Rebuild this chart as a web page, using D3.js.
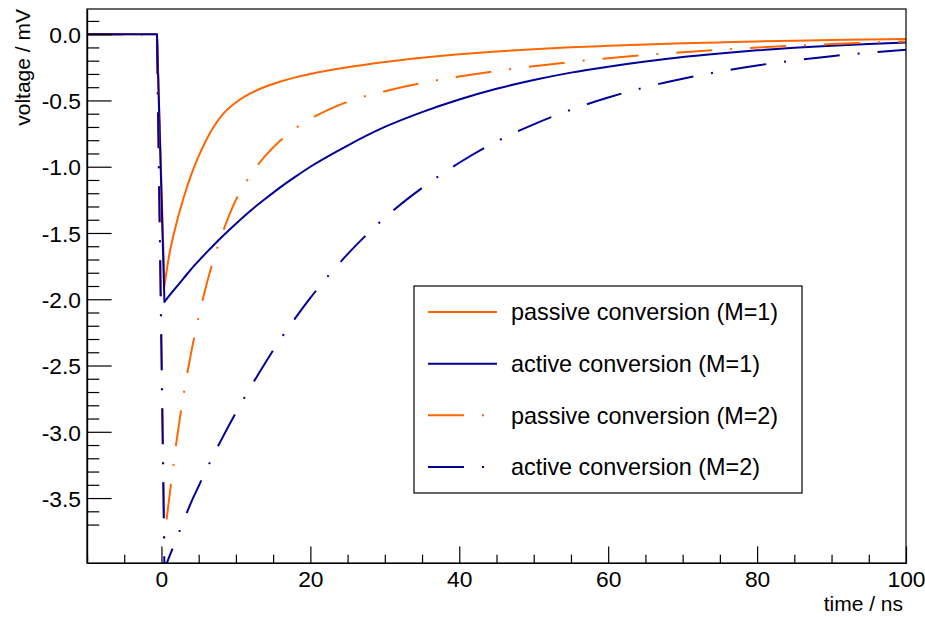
<!DOCTYPE html>
<html>
<head>
<meta charset="utf-8">
<script src="https://cdn.jsdelivr.net/npm/d3@7/dist/d3.min.js"></script>
<style>
  html, body { margin: 0; padding: 0; background: #fff; }
  svg { display: block; }
  text { font-family: "Liberation Sans", Arial, Helvetica, sans-serif; fill: #000; }
</style>
</head>
<body>
<svg id="chart" width="925" height="617"></svg>
<script>
// ---- data ----
const times = [-10, -0.6, 0.4, 1, 2, 3, 4, 5, 6, 7, 8, 10, 12, 14, 16, 18, 20, 25, 30, 35, 40, 45, 50, 55, 60, 65, 70, 75, 80, 85, 90, 95, 100];

const passiveM1 = [0, 0, -1.90, -1.68, -1.43, -1.23, -1.06, -0.92, -0.80, -0.70, -0.62, -0.515, -0.445, -0.395, -0.357, -0.326, -0.300, -0.250, -0.210, -0.178, -0.152, -0.131, -0.114, -0.099, -0.088, -0.078, -0.069, -0.062, -0.055, -0.049, -0.044, -0.040, -0.036];

const activeM1 = [0, 0, -2.02, -1.977, -1.908, -1.84, -1.772, -1.71, -1.65, -1.592, -1.536, -1.43, -1.33, -1.24, -1.154, -1.075, -1.00, -0.84, -0.70, -0.588, -0.493, -0.412, -0.346, -0.29, -0.245, -0.206, -0.172, -0.145, -0.122, -0.103, -0.087, -0.074, -0.062];

const passiveM2 = [0, 0, -3.80, -3.52, -3.08, -2.71, -2.40, -2.13, -1.90, -1.70, -1.53, -1.25, -1.06, -0.915, -0.80, -0.71, -0.64, -0.51, -0.43, -0.368, -0.32, -0.278, -0.242, -0.21, -0.182, -0.157, -0.136, -0.117, -0.101, -0.087, -0.075, -0.064, -0.055];

const activeM2 = [0, 0, -4.04, -3.95, -3.81, -3.67, -3.53, -3.41, -3.29, -3.175, -3.065, -2.855, -2.66, -2.475, -2.30, -2.14, -1.99, -1.66, -1.385, -1.16, -0.97, -0.81, -0.68, -0.57, -0.478, -0.40, -0.336, -0.282, -0.236, -0.198, -0.166, -0.14, -0.118];

const seriesNames = ["passive conversion (M=1)", "active conversion (M=1)", "passive conversion (M=2)", "active conversion (M=2)"];

const xMajorTicks = [0, 20, 40, 60, 80, 100];
const yMajorTicks = [0, -0.5, -1.0, -1.5, -2.0, -2.5, -3.0, -3.5];

const xTitle = "time / ns";
const yTitle = "voltage / mV";

// ---- styles ----
const ORANGE = "#ff6600";
const BLUE = "#000099";
const DASHDOT = "36,18,2,18";
const styles = [
  { color: ORANGE, dash: null },
  { color: BLUE, dash: null },
  { color: ORANGE, dash: DASHDOT },
  { color: BLUE, dash: DASHDOT }
];
const seriesValues = [passiveM1, activeM1, passiveM2, activeM2];

const LABEL_SIZE = "22.8px";
const TITLE_SIZE = "21px";
const LEGEND_SIZE = "23.4px";

// ---- layout ----
const svg = d3.select("#chart");
const L = 87, R = 906, T = 9, B = 563;

const x = d3.scaleLinear().domain([-10, 100]).range([L, R]);
const y = d3.scaleLinear().domain([-3.99, 0.19]).range([B, T]);

svg.append("rect").attr("width", 925).attr("height", 617).attr("fill", "#fff");

svg.append("defs").append("clipPath").attr("id", "clip")
  .append("rect").attr("x", L).attr("y", T).attr("width", R - L).attr("height", B - T);

// curves
function pathFor(vals) {
  const pts = times.map((t, i) => [x(t), y(vals[i])]);
  const lin = d3.line()(pts.slice(0, 3));
  const smooth = d3.line().curve(d3.curveMonotoneX)(pts.slice(2));
  return lin + smooth.replace(/^M[^A-Za-z]*/, "");
}

const g = svg.append("g").attr("clip-path", "url(#clip)");
seriesValues.forEach((vals, i) => {
  g.append("path")
    .attr("d", pathFor(vals))
    .attr("fill", "none")
    .attr("stroke", styles[i].color)
    .attr("stroke-width", 2)
    .attr("stroke-linejoin", "round")
    .attr("stroke-dasharray", styles[i].dash);
});

// frame
svg.append("rect")
  .attr("x", L).attr("y", T).attr("width", R - L).attr("height", B - T)
  .attr("fill", "none").attr("stroke", "#000").attr("stroke-width", 1.2);

// x axis
const xMajLen = 16.6, xMinLen = 8.3;
const xAxisMaj = d3.axisBottom(x).tickValues(xMajorTicks).tickSizeInner(-xMajLen).tickSizeOuter(0).tickPadding(0).tickFormat(d3.format("d"));
const xMinorVals = d3.range(-10, 100.01, 5).filter(v => !xMajorTicks.includes(v));
const xAxisMin = d3.axisBottom(x).tickValues(xMinorVals).tickSizeInner(-xMinLen).tickSizeOuter(0).tickFormat("");

const gxMin = svg.append("g").attr("transform", `translate(0,${B})`).call(xAxisMin);
const gx = svg.append("g").attr("transform", `translate(0,${B})`).call(xAxisMaj);
[gx, gxMin].forEach(a => {
  a.select(".domain").attr("stroke", "#000").attr("stroke-width", 1.2);
  a.selectAll(".tick line").attr("stroke", "#000").attr("stroke-width", 1.2);
});
gx.selectAll(".tick text")
  .attr("y", 24).attr("dy", 0)
  .style("font-size", LABEL_SIZE).style("font-family", "'Liberation Sans', Arial, sans-serif")
  .attr("fill", "#000");

// y axis
const yMajLen = 24.6, yMinLen = 12.3;
const yAxisMaj = d3.axisLeft(y).tickValues(yMajorTicks).tickSizeInner(-yMajLen).tickSizeOuter(0).tickPadding(0).tickFormat(d3.format(".1f"));
const yMinorVals = d3.range(1, 40).map(k => +(0.2 - k * 0.1).toFixed(1)).filter(v => v <= 0.19 && v >= -3.99 && !yMajorTicks.some(m => Math.abs(m - v) < 1e-9));
const yAxisMin = d3.axisLeft(y).tickValues(yMinorVals).tickSizeInner(-yMinLen).tickSizeOuter(0).tickFormat("");

const gyMin = svg.append("g").attr("transform", `translate(${L},0)`).call(yAxisMin);
const gy = svg.append("g").attr("transform", `translate(${L},0)`).call(yAxisMaj);
[gy, gyMin].forEach(a => {
  a.select(".domain").attr("stroke", "#000").attr("stroke-width", 1.2);
  a.selectAll(".tick line").attr("stroke", "#000").attr("stroke-width", 1.2);
});
gy.selectAll(".tick text")
  .attr("x", -6).attr("dy", "0.36em")
  .style("font-size", LABEL_SIZE).style("font-family", "'Liberation Sans', Arial, sans-serif")
  .attr("fill", "#000")
  .text(d => d3.format(".1f")(d).replace("−", "-"));

// axis titles
svg.append("text")
  .attr("x", 903).attr("y", 611)
  .attr("text-anchor", "end")
  .style("font-size", TITLE_SIZE)
  .text(xTitle);

svg.append("text")
  .attr("transform", `translate(30,${T}) rotate(-90)`)
  .attr("text-anchor", "end")
  .style("font-size", TITLE_SIZE)
  .text(yTitle);

// legend
const lg = svg.append("g");
const LX0 = 414, LX1 = 802, LY0 = 286, LY1 = 493;
lg.append("rect")
  .attr("x", LX0).attr("y", LY0).attr("width", LX1 - LX0).attr("height", LY1 - LY0)
  .attr("fill", "#fff").attr("stroke", "#000").attr("stroke-width", 1.2);
const rowY = d3.scalePoint().domain(d3.range(seriesNames.length)).range([312, 467]);
seriesNames.forEach((name, i) => {
  const yy = rowY(i);
  lg.append("line")
    .attr("x1", 428).attr("x2", 497).attr("y1", yy).attr("y2", yy)
    .attr("stroke", styles[i].color).attr("stroke-width", 2)
    .attr("stroke-dasharray", styles[i].dash);
  lg.append("text")
    .attr("x", 511).attr("y", yy).attr("dy", "0.36em")
    .style("font-size", LEGEND_SIZE)
    .text(name);
});
</script>
</body>
</html>
